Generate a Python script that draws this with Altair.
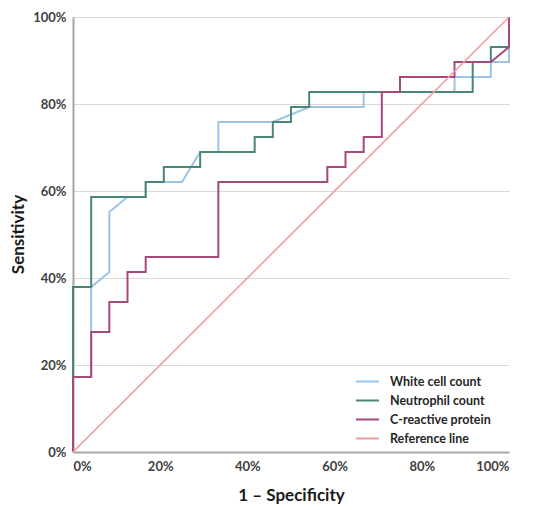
import altair as alt
import pandas as pd

series_names = ["White cell count", "Neutrophil count", "C-reactive protein", "Reference line"]
series_colors = ["#9dc3e6", "#4b8777", "#a54a7c", "#f19c9c"]

# 1 - specificity (%) and sensitivity (%) for each step point
white_x = [0, 0, 4.17, 4.17, 4.17, 8.33, 8.33, 12.5, 16.67, 16.67, 25, 29.17, 33.33, 33.33,
           45.83, 54.17, 66.67, 66.67, 87.5, 87.5, 95.83, 95.83, 100, 100]
white_y = [0, 17.24, 17.24, 27.59, 37.93, 41.38, 55.17, 58.62, 58.62, 62.07, 62.07, 68.97, 68.97, 75.86,
           75.86, 79.31, 79.31, 82.76, 82.76, 86.21, 86.21, 89.66, 89.66, 100]

neut_x = [0, 0, 4.17, 4.17, 16.67, 16.67, 20.83, 20.83, 29.17, 29.17, 41.67, 41.67, 45.83, 45.83,
          50, 50, 54.17, 54.17, 91.67, 91.67, 95.83, 95.83, 100, 100]
neut_y = [0, 37.93, 37.93, 58.62, 58.62, 62.07, 62.07, 65.52, 65.52, 68.97, 68.97, 72.41, 72.41, 75.86,
          75.86, 79.31, 79.31, 82.76, 82.76, 89.66, 89.66, 93.10, 93.10, 100]

crp_x = [0, 0, 4.17, 4.17, 8.33, 8.33, 12.5, 12.5, 16.67, 16.67, 33.33, 33.33, 58.33, 58.33,
         62.5, 62.5, 66.67, 66.67, 70.83, 70.83, 75, 75, 87.5, 87.5, 95.83, 100, 100]
crp_y = [0, 17.24, 17.24, 27.59, 27.59, 34.48, 34.48, 41.38, 41.38, 44.83, 44.83, 62.07, 62.07, 65.52,
         65.52, 68.97, 68.97, 72.41, 72.41, 82.76, 82.76, 86.21, 86.21, 89.66, 89.66, 93.10, 100]

ref_x = [0, 100]
ref_y = [0, 100]

tick_values = [0, 0.2, 0.4, 0.6, 0.8, 1.0]

rows = []
for name, xs, ys in zip(series_names, [white_x, neut_x, crp_x, ref_x], [white_y, neut_y, crp_y, ref_y]):
    for i, (xv, yv) in enumerate(zip(xs, ys)):
        rows.append({"series": name, "order": i, "x": xv / 100.0, "y": yv / 100.0})
df = pd.DataFrame(rows)

FONT = "Lato"

color = alt.Color(
    "series:N",
    scale=alt.Scale(domain=series_names, range=series_colors),
    legend=alt.Legend(
        title=None, orient="none", legendX=282, legendY=352,
        symbolType="stroke", symbolSize=529, symbolStrokeWidth=2,
        labelFont=FONT, labelFontSize=12.5, labelFontWeight="bold", labelColor="#262626",
        labelOffset=10, rowPadding=-6, padding=0,
    ),
)

x_enc = alt.X("x:Q", scale=alt.Scale(domain=[0, 1], nice=False),
              axis=alt.Axis(values=tick_values, format=".0%", title="1 – Specificity", grid=False,
                            ticks=False, labelPadding=8, domainColor="#a6a6a6", domainWidth=2,
                            titleX=218, titleY=43, titleBaseline="middle"))
y_enc = alt.Y("y:Q", scale=alt.Scale(domain=[0, 1], nice=False),
              axis=alt.Axis(values=tick_values, format=".0%", title="Sensitivity", grid=True,
                            gridColor="#d9d9d9", gridWidth=1.2, ticks=False, labelPadding=7,
                            domainColor="#a6a6a6", domainWidth=2,
                            titleX=-55, titleY=217, titleAngle=-90, titleBaseline="middle",
                            titleAlign="center"))

layers = []
for name in series_names:
    layers.append(
        alt.Chart(df)
        .transform_filter(alt.datum.series == name)
        .mark_line(strokeWidth=2 if name != "Reference line" else 1.6)
        .encode(x=x_enc, y=y_enc, order="order:Q", color=color)
    )

chart = (
    alt.layer(*layers)
    .properties(width=436, height=435,
                autosize=alt.AutoSizeParams(type="none"),
                padding={"left": 65, "top": 9, "right": 15, "bottom": 55})
    .configure_view(stroke=None)
    .configure_axis(labelFont=FONT, labelFontSize=13, labelFontWeight="bold", labelColor="#404040",
                    titleFont=FONT, titleFontSize=17, titleFontWeight="bold", titleColor="#1a1a1a")
)

chart.save("out.html", embed_options={"renderer": "svg", "actions": False})
